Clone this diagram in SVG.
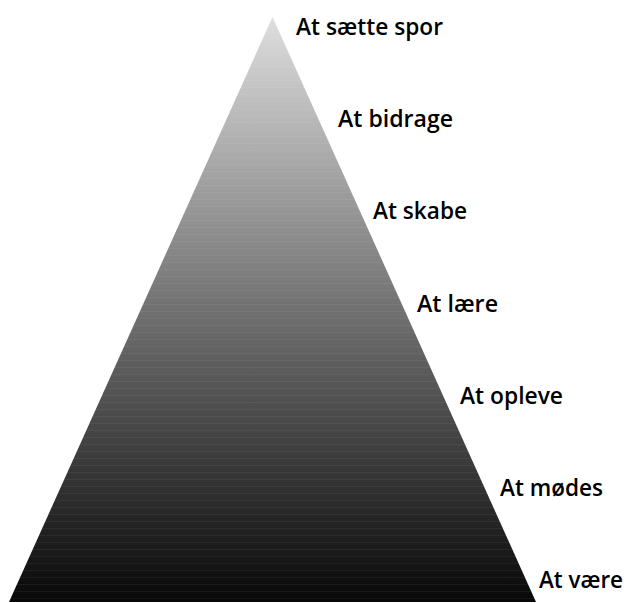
<svg xmlns="http://www.w3.org/2000/svg" width="628" height="603" viewBox="0 0 628 603">
<defs>
<linearGradient id="g" gradientUnits="userSpaceOnUse" x1="0" y1="17" x2="0" y2="602">
<stop offset="0" stop-color="#dedede"/>
<stop offset="0.5" stop-color="#717171"/>
<stop offset="1" stop-color="#080808"/>
</linearGradient>
<pattern id="bands" patternUnits="userSpaceOnUse" x="0" y="17" width="628" height="7">
<rect x="0" y="0" width="628" height="1" fill="#fff" fill-opacity="0.05"/>
</pattern>
<style>
.lbl{font-family:"Open Sans","Liberation Sans",sans-serif;font-weight:600;font-size:23px;fill:#000}
</style>
</defs>
<rect width="628" height="603" fill="#fff"/>
<g id="pyramid">
<polygon points="272.5,17 536,602 9,602" fill="url(#g)"/>
<polygon points="272.5,17 536,602 9,602" fill="url(#bands)"/>
</g>
<g id="labels">
<text class="lbl" x="296" y="35" textLength="147" lengthAdjust="spacingAndGlyphs">At sætte spor</text>
<text class="lbl" x="338" y="127" textLength="115" lengthAdjust="spacingAndGlyphs">At bidrage</text>
<text class="lbl" x="373" y="219" textLength="94" lengthAdjust="spacingAndGlyphs">At skabe</text>
<text class="lbl" x="417" y="312" textLength="81" lengthAdjust="spacingAndGlyphs">At lære</text>
<text class="lbl" x="460" y="404" textLength="103" lengthAdjust="spacingAndGlyphs">At opleve</text>
<text class="lbl" x="500" y="496" textLength="103" lengthAdjust="spacingAndGlyphs">At mødes</text>
<text class="lbl" x="539" y="588" textLength="84" lengthAdjust="spacingAndGlyphs">At være</text>
</g>
</svg>
